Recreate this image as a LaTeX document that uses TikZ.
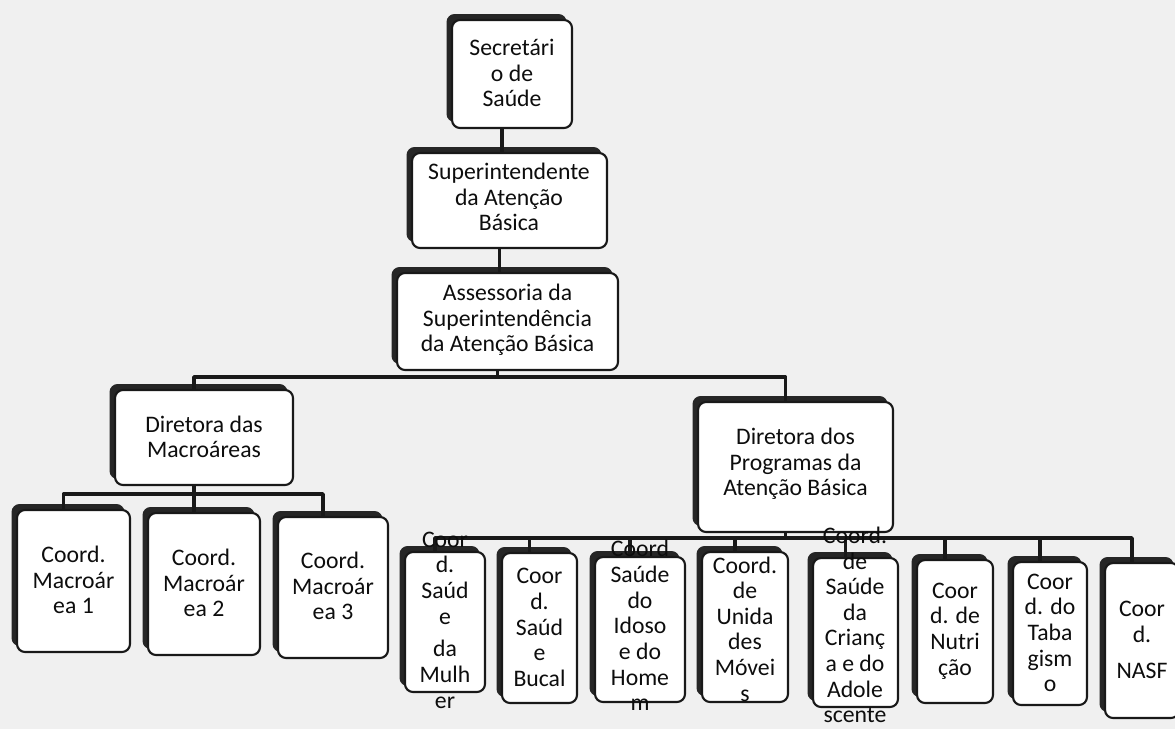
\documentclass[tikz,border=0pt]{standalone}
\usepackage{fontspec}
\setmainfont{Carlito}
\usetikzlibrary{shadows}
\begin{document}
\begin{tikzpicture}[x=0.02cm, y=-0.02cm, line join=round, line cap=round]
	\tikzset{caixa/.style={draw=black!90, line width=1.2pt, fill=white, rounded corners=0.16cm, inner sep=0pt,
			general shadow={fill=black!85, shadow xshift=-0.11cm, shadow yshift=0.12cm}},
		texto/.style={align=center, inner sep=0pt, text=black!95, font=\fontsize{13.5}{14.6}\selectfont},
		liga/.style={line width=2pt, draw=black!90}}
	\def \dx{-0.2cm}
	\useasboundingbox (0,0) rectangle (1175,729);
	\fill[black!6] (0,0) rectangle (1175,729);
	% caixas
	\node[caixa, minimum width=2.4cm, minimum height=2.16cm] (sec) at (512,74) {};
	\node[caixa, minimum width=3.9cm, minimum height=1.9cm] (sup) at (509.5,200.5) {};
	\node[caixa, minimum width=4.42cm, minimum height=1.94cm] (ass) at (507.5,321.5) {};
	\node[caixa, minimum width=3.56cm, minimum height=1.9cm] (dirM) at (204,437.5) {};
	\node[caixa, minimum width=3.9cm, minimum height=2.6cm] (dirP) at (795.5,467) {};
	\node[caixa, minimum width=2.26cm, minimum height=2.84cm] (m1) at (73.5,581) {};
	\node[caixa, minimum width=2.24cm, minimum height=2.84cm] (m2) at (204,584) {};
	\node[caixa, minimum width=2.2cm, minimum height=2.82cm] (m3) at (333,587.5) {};
	\node[caixa, minimum width=1.6cm, minimum height=2.8cm] (p1) at (445,622) {};
	\node[caixa, minimum width=1.5cm, minimum height=3cm] (p2) at (539.5,628) {};
	\node[caixa, minimum width=1.8cm, minimum height=2.9cm] (p3) at (640,629.5) {};
	\node[caixa, minimum width=1.72cm, minimum height=3cm] (p4) at (745,627) {};
	\node[caixa, minimum width=1.7cm, minimum height=2.98cm] (p5) at (855.5,632.5) {};
	\node[caixa, minimum width=1.52cm, minimum height=2.86cm] (p6) at (955,631.5) {};
	\node[caixa, minimum width=1.48cm, minimum height=2.86cm] (p7) at (1050,633.5) {};
	\node[caixa, minimum width=1.48cm, minimum height=3.1cm] (p8) at (1142,640.5) {};
	% ligacoes
	\coordinate (b1) at (0,377);
	\coordinate (b2) at (0,494);
	\coordinate (b3) at (0,538);
	\draw[liga] ([xshift=\dx]sec.south) -- ([xshift=\dx]sec.south |- sup.north);
	\draw[liga] ([xshift=\dx]sup.south) -- ([xshift=\dx]sup.south |- ass.north);
	\draw[liga] ([xshift=\dx]ass.south) -- ([xshift=\dx]ass.south |- b1);
	\draw[liga] ([xshift=\dx]dirM.north) -- ([xshift=\dx]dirM.north |- b1) -- ([xshift=\dx]dirP.north |- b1) -- ([xshift=\dx]dirP.north);
	\draw[liga] ([xshift=\dx]dirM.south) -- ([xshift=\dx]dirM.south |- b2);
	\draw[liga] ([xshift=\dx]m1.north) -- ([xshift=\dx]m1.north |- b2) -- ([xshift=\dx]m3.north |- b2) -- ([xshift=\dx]m3.north);
	\draw[liga] ([xshift=\dx]m2.north) -- ([xshift=\dx]m2.north |- b2);
	\draw[liga] ([xshift=\dx]dirP.south) -- ([xshift=\dx]dirP.south |- b3);
	\draw[liga] ([xshift=\dx]p1.north) -- ([xshift=\dx]p1.north |- b3) -- ([xshift=\dx]p8.north |- b3) -- ([xshift=\dx]p8.north);
	\foreach \n in {p2,p3,p4,p5,p6,p7}
	\draw[liga] ([xshift=\dx]\n.north) -- ([xshift=\dx]\n.north |- b3);
	% textos
	\node[texto] (secT) at (512,73) {Secretári\\o de\\Saúde};
	\node[texto] (supT) at (509,197) {Superintendente\\da Atenção\\Básica};
	\node[texto] (assT) at (507.5,320) {Assessoria da\\Superintendência\\da Atenção Básica};
	\node[texto] (dirMT) at (204,437) {Diretora das\\Macroáreas};
	\node[texto] (dirPT) at (795.5,464) {Diretora dos\\Programas da\\Atenção Básica};
	\node[texto] (m1T) at (73.5,580) {Coord.\\Macroár\\ea 1};
	\node[texto] (m2T) at (204,583) {Coord.\\Macroár\\ea 2};
	\node[texto] (m3T) at (333,586) {Coord.\\Macroár\\ea 3};
	\node[texto] (p1T) at (445,620) {Coor\\d.\\Saúd\\e\\[4pt]da\\Mulh\\er};
	\node[texto] (p2T) at (539.5,627.5) {Coor\\d.\\Saúd\\e\\Bucal};
	\node[texto] (p3T) at (640,625.5) {Coord\\Saúde\\do\\Idoso\\e do\\Home\\m};
	\node[texto] (p4T) at (745,629) {Coord.\\de\\Unida\\des\\Móvei\\s};
	\node[texto] (p5T) at (855,625) {Coord.\\de\\Saúde\\da\\Crianç\\a e do\\Adole\\scente};
	\node[texto] (p6T) at (955,631) {Coor\\d. de\\Nutri\\ção};
	\node[texto] (p7T) at (1050,633) {Coor\\d. do\\Taba\\gism\\o};
	\node[texto] (p8T) at (1142,640) {Coor\\d.\\[6pt]NASF};
\end{tikzpicture}
\end{document}
